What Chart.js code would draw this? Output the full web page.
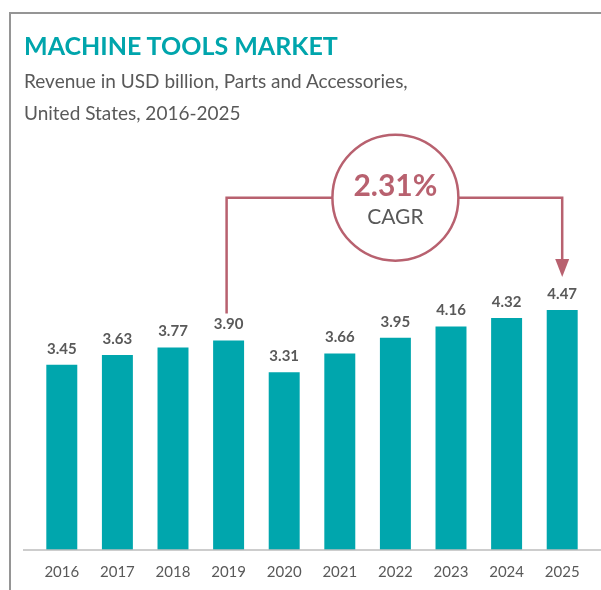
<!DOCTYPE html>
<html>
<head>
<meta charset="utf-8">
<script src="https://cdn.jsdelivr.net/npm/chart.js@4.4.1/dist/chart.umd.min.js"></script>
<style>
    html, body { margin: 0; padding: 0; background: #fff; }
    body { width: 601px; height: 590px; position: relative; overflow: hidden; font-family: Lato, "Open Sans", sans-serif; }
    .frame {
        position: absolute; left: 9px; top: 12px; right: 0; bottom: 0;
        border-top: 2px solid #959595; border-left: 2px solid #959595;
    }
    .title {
        position: absolute; left: 24px; top: 31px; margin: 0;
        font-size: 25px; font-weight: 700; line-height: 28px; color: #00a5ac;
    }
    .subtitle {
        position: absolute; left: 24px; top: 65px; margin: 0;
        font-size: 19px; line-height: 32px; color: #595959;
    }
    #chart { position: absolute; left: 0; top: 0; }
</style>
</head>
<body>
<div class="frame"></div>
<canvas id="chart" width="601" height="590"></canvas>
<h1 class="title">MACHINE TOOLS MARKET</h1>
<p class="subtitle">Revenue in USD billion, Parts and Accessories,<br>United States, 2016-2025</p>

<script>
const years = ['2016', '2017', '2018', '2019', '2020', '2021', '2022', '2023', '2024', '2025'];
const revenue = [3.45, 3.63, 3.77, 3.90, 3.31, 3.66, 3.95, 4.16, 4.32, 4.47];

const cagrText = '2.31%';
const cagrFrom = 3;       // 2019
const cagrTo = 9;         // 2025
const cagrCenter = 6;     // circle sits over 2022
const cagrLevel = 6.56;   // height of the connector, in USD billion

const teal = '#00a6ad';
const rose = '#b8616f';
const labelGrey = '#595959';

// value labels, CAGR bubble and the baseline
const annotations = {
    id: 'annotations',
    afterDatasetsDraw(chart) {
        const ctx = chart.ctx;
        const x = chart.scales.x;
        const y = chart.scales.y;
        const base = y.getPixelForValue(0);

        ctx.save();
        ctx.strokeStyle = '#bdbdbd';
        ctx.lineWidth = 1.5;
        ctx.beginPath();
        ctx.moveTo(chart.chartArea.left - 11, base);
        ctx.lineTo(chart.width, base);
        ctx.stroke();

        ctx.fillStyle = labelGrey;
        ctx.font = 'bold 15px Lato';
        ctx.textAlign = 'center';
        ctx.textBaseline = 'middle';
        revenue.forEach((v, i) => {
            ctx.fillText(v.toFixed(2), x.getPixelForValue(i), y.getPixelForValue(v) - 16);
        });

        const cx = x.getPixelForValue(cagrCenter);
        const cy = y.getPixelForValue(cagrLevel);
        const r = 63;
        const xa = x.getPixelForValue(cagrFrom) - 2;
        const xb = x.getPixelForValue(cagrTo);
        const ya = y.getPixelForValue(revenue[cagrFrom]) - 27;
        const yb = y.getPixelForValue(revenue[cagrTo]) - 33;

        ctx.strokeStyle = rose;
        ctx.lineWidth = 2.5;
        ctx.beginPath();
        ctx.moveTo(xa, ya);
        ctx.lineTo(xa, cy);
        ctx.lineTo(cx - r, cy);
        ctx.moveTo(cx + r, cy);
        ctx.lineTo(xb, cy);
        ctx.lineTo(xb, yb - 15);
        ctx.stroke();

        ctx.fillStyle = rose;
        ctx.beginPath();
        ctx.moveTo(xb - 7, yb - 18);
        ctx.lineTo(xb + 7, yb - 18);
        ctx.lineTo(xb, yb);
        ctx.closePath();
        ctx.fill();

        ctx.beginPath();
        ctx.arc(cx, cy, r, 0, Math.PI * 2);
        ctx.fillStyle = '#fff';
        ctx.fill();
        ctx.stroke();

        ctx.fillStyle = rose;
        ctx.font = 'bold 30px Lato';
        ctx.fillText(cagrText, cx, cy - 11);
        ctx.fillStyle = labelGrey;
        ctx.font = '21px Lato';
        ctx.fillText('CAGR', cx, cy + 20);
        ctx.restore();
    }
};

new Chart(document.getElementById('chart'), {
    type: 'bar',
    data: {
        labels: years,
        datasets: [{
            data: revenue,
            backgroundColor: teal,
            categoryPercentage: 1,
            barPercentage: 0.557
        }]
    },
    options: {
        responsive: false,
        animation: false,
        layout: { padding: { left: 34, right: 11, top: 174, bottom: -4 } },
        plugins: {
            legend: { display: false },
            tooltip: { enabled: false }
        },
        scales: {
            x: {
                grid: { display: false, drawTicks: false },
                border: { display: false },
                ticks: { color: labelGrey, font: { family: 'Lato', size: 15 }, padding: 13 }
            },
            y: {
                display: false,
                min: 0,
                max: 7
            }
        }
    },
    plugins: [annotations]
});
</script>
</body>
</html>
